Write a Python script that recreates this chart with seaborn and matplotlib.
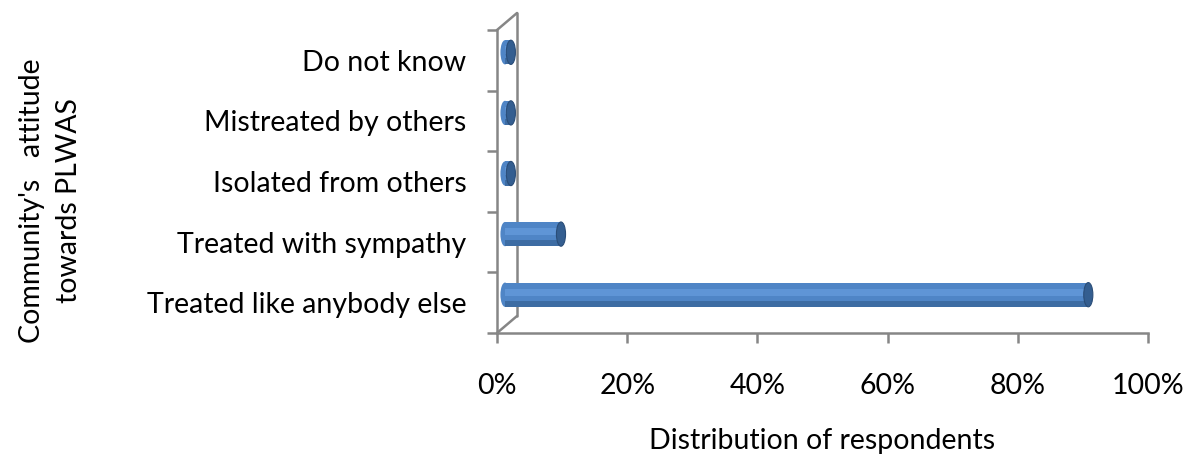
import numpy as np
import pandas as pd
import seaborn as sns
import matplotlib
matplotlib.use("Agg")
import matplotlib.pyplot as plt
from matplotlib.patches import Ellipse, Rectangle
from matplotlib.transforms import offset_copy
from matplotlib.lines import Line2D

# data, top to bottom as in the chart
attitudes = ["Do not know", "Mistreated by others", "Isolated from others",
             "Treated with sympathy", "Treated like anybody else"]
shares = [0.9, 0.9, 0.9, 8.6, 89.6]
x_ticks = [0, 20, 40, 60, 80, 100]
x_labels = ["0%", "20%", "40%", "60%", "80%", "100%"]

df = pd.DataFrame({"Attitude": attitudes, "Share": shares})

sns.set_theme(style="white")
plt.rcParams["font.family"] = ["Lato", "DejaVu Sans"]

grey = "#868686"
fs = 20.5
fig = plt.figure(figsize=(12.01, 4.61), dpi=100)
ax = fig.add_axes([497 / 1201, 1 - 333 / 461, (1148 - 497) / 1201, (333 - 30) / 461])

sns.barplot(data=df, x="Share", y="Attitude", orient="h", color="#4F85C6",
            width=0.4, ax=ax, saturation=1)

# shift the bars toward the back wall a little (3D depth)
shift = offset_copy(ax.transData, fig=fig, x=8, y=8, units="dots")
bars = list(ax.patches)
cap_w = 1.4
for p in bars:
    p.set_transform(shift)
    p.set_edgecolor("none")
    x0, y0 = p.get_x(), p.get_y()
    w, h = p.get_width(), p.get_height()
    z = p.get_zorder()
    # rounded start
    ax.add_patch(Ellipse((x0, y0 + h / 2), cap_w, h, color="#4F85C6", lw=0,
                         transform=shift, zorder=z - 0.05))
    # lighter / darker bands for the cylinder look
    ax.add_patch(Rectangle((x0, y0 + h * 0.25), w, h * 0.3, color="#5F95D6",
                           lw=0, transform=shift, zorder=z + 0.1))
    ax.add_patch(Rectangle((x0, y0 + h * 0.75), w, h * 0.25, color="#3D6CA3",
                           lw=0, transform=shift, zorder=z + 0.1))
    # dark end cap
    ax.add_patch(Ellipse((x0 + w, y0 + h / 2), cap_w, h, facecolor="#345E90",
                         edgecolor="#2A4D78", lw=0.8,
                         transform=shift, zorder=z + 0.2))

n = len(attitudes)
ax.set_xlim(0, 100)
ax.set_ylim(n - 0.5, -0.5)
ax.set_xticks(x_ticks)
ax.set_xticklabels(x_labels, fontsize=fs, color="#000000")
ax.set_yticks(np.arange(-0.5, n, 1.0))
ax.set_yticklabels([])
ax.set_yticks(np.arange(n), minor=True)
ax.set_yticklabels(attitudes, minor=True, fontsize=fs, color="#000000")
ax.tick_params(axis="y", which="major", length=7.5, width=1.8, color=grey,
               direction="out", left=True)
ax.tick_params(axis="y", which="minor", length=0, pad=22)
ax.tick_params(axis="x", length=7.5, width=1.8, color=grey, direction="out",
               bottom=True, pad=21)

for s in ["top", "right"]:
    ax.spines[s].set_visible(False)
for s in ["left", "bottom"]:
    ax.spines[s].set_color(grey)
    ax.spines[s].set_linewidth(1.8)

# back wall of the 3D frame
dx, dy = 20 / 651, 17 / 303
for xs, ys in [([0, dx], [0, dy]), ([dx, dx], [dy, 1 + dy]), ([0, dx], [1, 1 + dy])]:
    ax.add_line(Line2D(xs, ys, transform=ax.transAxes, color=grey, lw=1.8,
                       clip_on=False, zorder=0.5))

ax.set_xlabel("Distribution of respondents", fontsize=fs, color="#000000")
ax.xaxis.set_label_coords(0.5, (333 - 428) / 303)
ax.set_ylabel("Community's   attitude\ntowards PLWAS", fontsize=fs,
              color="#000000", linespacing=1.5)
ax.yaxis.set_label_coords((82 - 497) / 651, (333 - 201) / 303)

fig.savefig("out.png", dpi=100)
